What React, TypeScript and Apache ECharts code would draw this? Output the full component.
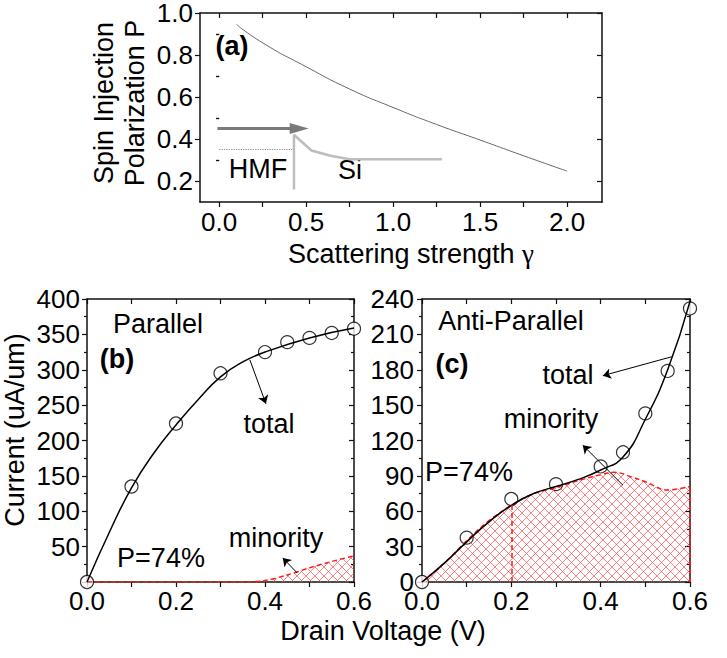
import React, { useEffect, useRef } from 'react';
import * as echarts from 'echarts';

// ---------- Panel (a): spin injection polarization vs scattering strength ----------
const gammaA = [0.1, 0.25, 0.5, 0.75, 1.0, 1.25, 1.5, 1.75, 2.0];
const polA = [0.945, 0.858, 0.744, 0.638, 0.55, 0.469, 0.395, 0.32, 0.247];
const insetGamma = [0.43, 0.43, 0.53, 0.64, 0.75, 1.28];
const insetPol = [0.16, 0.42, 0.345, 0.32, 0.304, 0.304];
const xTicksA = [0, 0.5, 1.0, 1.5, 2.0];
const xAllTicksA = [0, 0.25, 0.5, 0.75, 1.0, 1.25, 1.5, 1.75, 2.0];
const yTicksA = [0.2, 0.4, 0.6, 0.8, 1.0];
const yMinorTicksA = [0.3, 0.5, 0.7, 0.9];

// ---------- Panel (b): Parallel ----------
const vCircB = [0, 0.1, 0.2, 0.3, 0.4, 0.45, 0.5, 0.55, 0.6];
const iCircB = [0, 135, 224, 295, 325, 339, 345, 352, 358];
const vLineB = [0, 0.05, 0.1, 0.15, 0.2, 0.25, 0.3, 0.35, 0.4, 0.5, 0.6];
const iLineB = [0, 70, 133, 182, 222, 258, 290, 311, 325, 345, 359];
const vMinB = [0, 0.1, 0.2, 0.3, 0.35, 0.4, 0.45, 0.5, 0.55, 0.6];
const iMinB = [0, 0, 0, 0, 0, 2, 10, 20, 29, 37];

// ---------- Panel (c): Anti-Parallel ----------
const vCircC = [0, 0.1, 0.2, 0.3, 0.4, 0.45, 0.5, 0.55, 0.6];
const iCircC = [0, 37.6, 70.4, 83, 98, 110, 143, 179, 232];
const vLineC = [0, 0.05, 0.1, 0.15, 0.2, 0.25, 0.3, 0.35, 0.4, 0.45, 0.5, 0.55, 0.6];
const iLineC = [0, 16, 34, 51, 65, 75, 81, 87, 95, 106, 138, 180, 238];
const vMinC = [0, 0.05, 0.1, 0.15, 0.2, 0.25, 0.3, 0.35, 0.4, 0.43, 0.47, 0.5, 0.55, 0.6];
const iMinC = [0, 16, 35, 52, 65, 75, 80, 86, 91, 93, 89, 85, 78, 81];

const FONT = "'Liberation Sans', Arial, Helvetica, sans-serif";
const SERIF = "'Liberation Serif', 'DejaVu Serif', serif";
const AX = '#111';

const zip = (a: number[], b: number[]) => a.map((v, i) => [v, b[i]]);

function makeHatch() {
  const s = 9;
  const c = document.createElement('canvas');
  c.width = s;
  c.height = s;
  const ctx = c.getContext('2d')!;
  ctx.strokeStyle = 'rgba(255,70,70,0.75)';
  ctx.lineWidth = 0.9;
  ctx.beginPath();
  ctx.moveTo(0, 0);
  ctx.lineTo(s, s);
  ctx.moveTo(s, 0);
  ctx.lineTo(0, s);
  ctx.stroke();
  return c;
}

const lbl = { fontSize: 26, color: '#000', fontFamily: FONT };
const axLine = { show: true, onZero: false, lineStyle: { color: AX, width: 1.5 } };
const tickStyle = { color: AX, width: 1.2 };

function xPair(grid: number, min: number, max: number, extra: any, labelExtra: any) {
  return [
    {
      gridIndex: grid, type: 'value', min, max, position: 'bottom',
      axisLine: axLine,
      axisTick: { show: true, length: 5, lineStyle: tickStyle, ...extra.tick },
      minorTick: extra.minor ? { show: true, splitNumber: extra.minor, length: 3, lineStyle: tickStyle } : { show: false },
      axisLabel: { ...lbl, margin: 7, ...labelExtra },
      splitLine: { show: false },
      ...extra.axis,
    },
    {
      gridIndex: grid, type: 'value', min, max, position: 'top',
      axisLine: axLine,
      axisTick: { show: true, inside: true, length: 5, lineStyle: tickStyle, ...extra.tick },
      minorTick: extra.minor ? { show: true, splitNumber: extra.minor, length: 3, lineStyle: tickStyle } : { show: false },
      axisLabel: { show: false },
      splitLine: { show: false },
      ...extra.axis,
    },
  ];
}

function yPair(grid: number, min: number, max: number, extra: any, labelExtra: any) {
  return [
    {
      gridIndex: grid, type: 'value', min, max, position: 'left',
      axisLine: axLine,
      axisTick: { show: true, length: 5, lineStyle: tickStyle, ...extra.tick },
      minorTick: extra.minor ? { show: true, splitNumber: extra.minor, length: 3, lineStyle: tickStyle } : { show: false },
      axisLabel: { ...lbl, margin: 7, ...labelExtra },
      splitLine: { show: false },
      ...extra.axis,
    },
    {
      gridIndex: grid, type: 'value', min, max, position: 'right',
      axisLine: axLine,
      axisTick: { show: true, inside: true, length: 5, lineStyle: tickStyle, ...extra.tick },
      minorTick: extra.minor ? { show: true, splitNumber: extra.minor, length: 3, lineStyle: tickStyle } : { show: false },
      axisLabel: { show: false },
      splitLine: { show: false },
      ...extra.axis,
    },
  ];
}

function txt(text: string, x: number, y: number, size = 27, bold = false, rot = 0) {
  return {
    type: 'text', x, y, rotation: rot, silent: true,
    style: {
      text, fontSize: size, fontFamily: FONT, fill: '#000',
      fontWeight: bold ? 'bold' : 'normal', align: 'center', verticalAlign: 'middle',
    },
  };
}

const arrowLine = { color: '#000', width: 1, type: 'solid' };

export default function App() {
  const ref = useRef<HTMLDivElement>(null);
  useEffect(() => {
    if (!ref.current) return;
    const chart = echarts.init(ref.current, null, { renderer: 'svg' });
    const hatch = makeHatch();
    const hatchFill = { image: hatch, repeat: 'repeat', imageWidth: 9, imageHeight: 9 };
    const fmt1 = (v: number) => v.toFixed(1);
    const fmtEven = (v: number) => (Math.round(v * 10) % 2 === 0 ? v.toFixed(1) : '');

    const xAxes = [
      ...xPair(0, -0.11, 2.2, { tick: { customValues: xAllTicksA } }, { customValues: xTicksA, formatter: fmt1 }),
      ...xPair(1, 0, 0.6, { axis: { interval: 0.1 } }, { formatter: fmtEven, margin: 6 }),
      ...xPair(2, 0, 0.6, { axis: { interval: 0.1 } }, { formatter: fmtEven, margin: 6 }),
    ];
    const yAxes = [
      ...yPair(0, 0.1, 1.0, { tick: { customValues: yTicksA } }, { customValues: yTicksA, formatter: fmt1 }),
      {
        gridIndex: 0, type: 'value', min: 0.1, max: 1.0, position: 'left',
        axisLine: { show: false }, axisLabel: { show: false }, splitLine: { show: false },
        axisTick: { show: true, length: 3, customValues: yMinorTicksA, lineStyle: tickStyle },
      },
      {
        gridIndex: 0, type: 'value', min: 0.1, max: 1.0, position: 'right',
        axisLine: { show: false }, axisLabel: { show: false }, splitLine: { show: false },
        axisTick: { show: true, inside: true, length: 3, customValues: yMinorTicksA, lineStyle: tickStyle },
      },
      ...yPair(1, 0, 400, { axis: { interval: 50 }, minor: 2 }, { showMinLabel: false }),
      ...yPair(2, 0, 240, { axis: { interval: 30 }, minor: 2 }, { margin: 8 }),
    ];

    const option: any = {
      animation: false,
      backgroundColor: '#fff',
      grid: [
        { left: 200, top: 5, width: 402, height: 197 },
        { left: 87, top: 299, width: 267, height: 283 },
        { left: 422, top: 299, width: 268, height: 283 },
      ],
      xAxis: xAxes,
      yAxis: yAxes,
      series: [
        // ---- (a)
        {
          type: 'line', xAxisIndex: 0, yAxisIndex: 0, data: zip(gammaA, polA),
          smooth: 0.6, symbol: 'none', lineStyle: { color: '#666', width: 1 }, silent: true,
        },
        {
          type: 'line', xAxisIndex: 0, yAxisIndex: 0, data: zip(insetGamma, insetPol),
          smooth: false, symbol: 'none', lineStyle: { color: '#bdbdbd', width: 2.5 }, silent: true,
          markLine: {
            silent: true, label: { show: false }, symbol: ['none', 'none'],
            data: [
              [
                { coord: [-0.01, 0.45], symbol: 'none', lineStyle: { color: '#7a7a7a', width: 3, type: 'solid' } },
                { coord: [0.46, 0.45], symbol: 'triangle', symbolSize: [11, 19] },
              ],
              [
                { coord: [0, 0.35], lineStyle: { color: '#8a8a8a', width: 1.2, type: 'dotted' } },
                { coord: [0.42, 0.35] },
              ],
            ],
          },
        },
        // ---- (b)
        {
          type: 'line', xAxisIndex: 2, yAxisIndex: 4, data: zip(vMinB, iMinB),
          smooth: 0.3, symbol: 'none', silent: true,
          lineStyle: { color: '#ff1a1a', width: 1.5, type: [5, 3] },
          areaStyle: { color: hatchFill, opacity: 1 },
        },
        {
          type: 'line', xAxisIndex: 2, yAxisIndex: 4, data: zip(vLineB, iLineB),
          smooth: true, symbol: 'none', silent: true, lineStyle: { color: '#000', width: 1.5 },
          markLine: {
            silent: true, label: { show: false }, symbol: ['none', 'arrow'], symbolSize: 8,
            lineStyle: arrowLine,
            data: [
              [{ coord: [0.366, 314] }, { coord: [0.402, 252] }],
              [{ coord: [0.472, 13] }, { coord: [0.44, 34] }],
            ],
          },
        },
        {
          type: 'scatter', xAxisIndex: 2, yAxisIndex: 4, data: zip(vCircB, iCircB),
          symbol: 'circle', symbolSize: 13, silent: true,
          itemStyle: { color: '#fff', borderColor: '#000', borderWidth: 1.2 },
        },
        // ---- (c)
        {
          type: 'line', xAxisIndex: 4, yAxisIndex: 6, data: zip(vMinC, iMinC),
          smooth: 0.4, symbol: 'none', silent: true,
          lineStyle: { color: '#ff1a1a', width: 1.5, type: [5, 3] },
          areaStyle: { color: hatchFill, opacity: 1 },
          markLine: {
            silent: true, label: { show: false }, symbol: ['none', 'none'],
            lineStyle: { color: '#ff1a1a', width: 1.5, type: [5, 3] },
            data: [
              [{ coord: [0.2, 0] }, { coord: [0.2, 65] }],
              [{ coord: [0.6, 0] }, { coord: [0.6, 81] }],
            ],
          },
        },
        {
          type: 'line', xAxisIndex: 4, yAxisIndex: 6, data: zip(vLineC, iLineC),
          smooth: true, symbol: 'none', silent: true, lineStyle: { color: '#000', width: 1.5 },
          markLine: {
            silent: true, label: { show: false }, symbol: ['none', 'arrow'], symbolSize: 8,
            lineStyle: arrowLine,
            data: [
              [{ coord: [0.559, 191] }, { coord: [0.405, 175] }],
              [{ coord: [0.45, 82] }, { coord: [0.36, 116] }],
            ],
          },
        },
        {
          type: 'scatter', xAxisIndex: 4, yAxisIndex: 6, data: zip(vCircC, iCircC),
          symbol: 'circle', symbolSize: 13, silent: true,
          itemStyle: { color: '#fff', borderColor: '#000', borderWidth: 1.2 },
        },
      ],
      graphic: [
        txt('Spin Injection', 104, 103, 27, false, Math.PI / 2),
        txt('Polarization P', 135, 103, 27, false, Math.PI / 2),
        {
          type: 'text', x: 411, y: 254, silent: true,
          style: {
            text: '{a|Scattering strength }{g|γ}', align: 'center', verticalAlign: 'middle',
            rich: {
              a: { fontSize: 27, fontFamily: FONT, fill: '#000' },
              g: { fontSize: 27, fontFamily: SERIF, fill: '#000' },
            },
          },
        },
        txt('(a)', 232, 46, 27, true),
        txt('HMF', 258, 169),
        txt('Si', 350, 170),
        txt('Current (uA/um)', 15, 430, 27, false, Math.PI / 2),
        txt('Drain Voltage (V)', 383, 631),
        txt('Parallel', 158, 324),
        txt('(b)', 117, 359, 27, true),
        txt('total', 269, 424),
        txt('P=74%', 161, 558),
        txt('minority', 276, 538),
        txt('Anti-Parallel', 511, 321),
        txt('(c)', 452, 364, 27, true),
        txt('total', 568, 375),
        txt('minority', 551, 419),
        txt('P=74%', 469, 472),
      ],
    };
    chart.setOption(option);
    return () => chart.dispose();
  }, []);
  return (
    <div
      ref={ref}
      style={{ position: 'fixed', left: 0, top: 0, width: 727, height: 658, background: '#fff' }}
    />
  );
}
